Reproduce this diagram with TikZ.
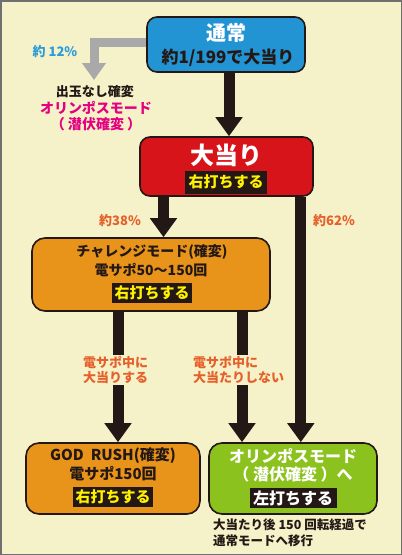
\documentclass[tikz,border=0pt]{standalone}
\usepackage{fontspec}
\setmainfont{Noto Sans CJK JP}
\usetikzlibrary{arrows.meta,calc}
\definecolor{bg}{HTML}{F5F2C9}
\definecolor{ink}{HTML}{231815}
\definecolor{cblue}{HTML}{2394D3}
\definecolor{cred}{HTML}{D7141A}
\definecolor{corange}{HTML}{E8931A}
\definecolor{cgreen}{HTML}{8CC21E}
\definecolor{cyellow}{HTML}{FFF100}
\definecolor{lblorange}{HTML}{E5602A}
\definecolor{ccyan}{HTML}{2C9CD9}
\definecolor{cmag}{HTML}{E4007F}
\definecolor{cgray}{HTML}{A9A9A9}
\definecolor{frame}{HTML}{707070}
\begin{document}
\begin{tikzpicture}[x=1pt,y=-1pt,
  box/.style={draw=ink, line width=1.6pt, rounded corners=10pt, inner sep=0pt},
  txt/.style={inner sep=0pt, font=\bfseries},
  lab/.style={fill=ink, inner sep=0pt, font=\bfseries\fontsize{15}{15}\selectfont},
  bigarrow/.style={draw=ink, line width=11pt, -{Triangle[width=26pt,length=19pt]}},
  grayarrow/.style={draw=cgray, line width=9pt, line join=miter, -{Triangle[width=23pt,length=17pt]}},
  note/.style={inner sep=1pt, fill=bg, font=\bfseries\fontsize{13}{15}\selectfont, text=lblorange, align=left}
]
\fill[bg] (0,0) rectangle (402,555);
\draw[frame, line width=1.5pt] (0.75,0.75) rectangle (401.25,554.25);
\useasboundingbox (0,0) rectangle (402,555);

% boxes
\node[box, fill=cblue, minimum width=158pt, minimum height=55pt] (tsujo) at (226,44.5) {};
\node[box, fill=cred, minimum width=173pt, minimum height=59pt] (atari) at (226.5,166.5) {};
\node[box, fill=corange, minimum width=238pt, minimum height=73pt, rounded corners=13pt] (chal) at (151,274.5) {};
\node[box, fill=corange, minimum width=174pt, minimum height=71pt, rounded corners=13pt] (god) at (113,478.5) {};
\node[box, fill=cgreen, minimum width=168pt, minimum height=71pt, rounded corners=13pt] (oly) at (293,478.5) {};

% arrows
\coordinate (gtip) at (94,80);
\draw[grayarrow] ([yshift=2pt]tsujo.west) -| (gtip);
\draw[bigarrow] ([xshift=3pt]tsujo.south) -- ([xshift=3pt]tsujo.south |- atari.north);
\draw[bigarrow] ([xshift=-63pt]atari.south) -- ([xshift=-63pt]atari.south |- chal.north);
\draw[bigarrow] ([xshift=-13pt]atari.south east) -- ([xshift=-13pt]atari.south east |- oly.north);
\draw[bigarrow] ([xshift=-33pt]chal.south) -- ([xshift=-33pt]chal.south |- god.north);
\draw[bigarrow] ([xshift=91pt]chal.south) -- ([xshift=91pt]chal.south |- oly.north);

% texts in boxes
\node[txt, text=white, font=\bfseries\fontsize{20}{20}\selectfont] (t1) at (226,33) {通常};
\node[txt, text=ink, font=\bfseries\fontsize{17}{17}\selectfont] (t2) at (228,58) {約1/199で大当り};
\node[txt, text=white, font=\bfseries\fontsize{24}{24}\selectfont] (a1) at (226,155) {大当り};
\node[lab, text=cyellow, minimum width=82pt, minimum height=23pt] (a2) at (226,182) {右打ちする};
\node[txt, text=ink, font=\bfseries\fontsize{14}{14}\selectfont] (c1) at (152,252) {チャレンジモード(確変)};
\node[txt, text=ink, font=\bfseries\fontsize{14}{14}\selectfont] (c2) at (151,270) {電サポ50〜150回};
\node[lab, text=cyellow, minimum width=80pt, minimum height=20pt] (c3) at (152,293) {右打ちする};
\node[txt, text=ink, font=\bfseries\fontsize{15}{15}\selectfont] (g1) at (113,456) {GOD\ \ RUSH(確変)};
\node[txt, text=ink, font=\bfseries\fontsize{15}{15}\selectfont] (g2) at (113,474) {電サポ150回};
\node[lab, text=cyellow, minimum width=80pt, minimum height=20pt] (g3) at (113,497) {右打ちする};
\node[txt, text=white, font=\bfseries\fontsize{16}{16}\selectfont] (o1) at (293,456) {オリンポスモード};
\node[txt, text=white, font=\bfseries\fontsize{16}{16}\selectfont] (o2) at (293,474) {（ 潜伏確変 ）へ};
\node[lab, text=white, minimum width=87pt, minimum height=20pt, font=\bfseries\fontsize{16}{16}\selectfont] (o3) at (293,498) {左打ちする};

% side texts
\node[txt, text=ccyan, font=\bfseries\fontsize{13}{13}\selectfont] (p12) at (55,52) {約 12\%};
\node[txt, text=ink, font=\bfseries\fontsize{13}{13}\selectfont] (s1) at (95,92) {出玉なし確変};
\node[txt, text=cmag, font=\bfseries\fontsize{14}{14}\selectfont] (s2) at (96,108) {オリンポスモード};
\node[txt, text=cmag, font=\bfseries\fontsize{14}{14}\selectfont] (s3) at (96,124) {（ 潜伏確変 ）};
\node[txt, text=lblorange, font=\bfseries\fontsize{13}{13}\selectfont] (p38) at (120,221) {約38\%};
\node[txt, text=lblorange, font=\bfseries\fontsize{13}{13}\selectfont] (p62) at (334,221) {約62\%};
\node[note, anchor=west] (n1) at (82,370) {電サポ中に\\大当りする};
\node[note, anchor=west] (n2) at (192,370) {電サポ中に\\大当たりしない};
\node[txt, text=ink, align=left, anchor=north west, font=\bfseries\fontsize{12.5}{16}\selectfont] (foot) at (213,519) {大当たり後 150 回転経過で\\通常モードへ移行};
\end{tikzpicture}
\end{document}
